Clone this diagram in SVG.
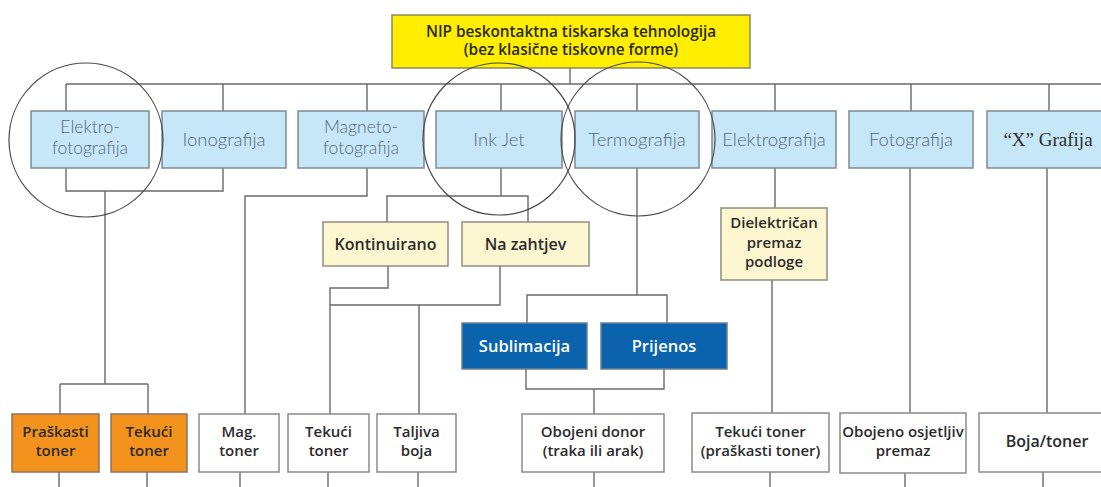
<svg xmlns="http://www.w3.org/2000/svg" width="1101" height="487" viewBox="0 0 1101 487">
<style>
.ln{fill:none;stroke:#6a6a6a;stroke-width:1.4}
.circ{fill:none;stroke:#4a4a4a;stroke-width:1.2}
.blue rect{fill:#c6e7f7;stroke:#7d8a92;stroke-width:1.5}
.blue text{font-family:Lato,"Noto Sans",sans-serif;font-weight:300;font-size:18.5px;fill:#56687a;text-anchor:middle}
.blue text.two{font-size:17.5px}
.top rect{fill:#ffee00;stroke:#8a8a5a;stroke-width:1.5}
.top text{font-family:"Open Sans","Liberation Sans",sans-serif;font-weight:600;font-size:15.3px;fill:#2a2a1a;text-anchor:middle}
.pale rect{fill:#fcf7d0;stroke:#8f8f80;stroke-width:1.5}
.dark rect{fill:#0b63ad;stroke:#6d7f90;stroke-width:1.5}
.orange rect{fill:#f4921e;stroke:#8a7460;stroke-width:1.5}
.white rect{fill:#ffffff;stroke:#8a8a8a;stroke-width:1.5}
.lbl{font-family:"Open Sans","Liberation Sans",sans-serif;font-weight:600;font-size:15px;fill:#2b2b2b;text-anchor:middle}
.big{font-size:16px}
.dark .lbl{fill:#ffffff;font-size:16.5px}
.blue text.serif{font-family:"Liberation Serif",serif;font-weight:400;fill:#2e2e2e;font-size:19px}
</style>

<g id="connectors">
<path class="ln" d="M570,68V84M66,84H1101"/>
<path class="ln" d="M66,84V111M223,84V111M367,84V111M501,84V111M637,84V111M775,84V111M911,84V111M1049,84V111"/>
<path class="ln" d="M66,168V191H223V168M105,191V384M60,384H148M60,384V414M148,384V414"/>
<path class="ln" d="M367,168V196H245V414"/>
<path class="ln" d="M501,168V196M387,222V196H528V222"/>
<path class="ln" d="M388,266V288H330V414M500,266V305H330M419,305V414"/>
<path class="ln" d="M637,168V295M527,323V295H667V323M526,369V389H664V369M594,389V414"/>
<path class="ln" d="M775,168V208M772,280V413"/>
<path class="ln" d="M910,168V413M1047,168V413"/>
<path class="ln" d="M59,472V487M147,472V487M240,472V487M328,472V487M418,472V487M594,472V487M770,472V487M905,472V487M1043,472V487"/>
</g>

<g id="nip" class="top"><rect x="392" y="15" width="358" height="53"/>
<text x="571" y="36.5">NIP beskontaktna tiskarska tehnologija</text>
<text x="571" y="55">(bez klasične tiskovne forme)</text></g>

<g id="elektrofotografija" class="blue"><rect x="31" y="111" width="118" height="57"/>
<text class="two" x="90" y="132.5">Elektro-</text><text class="two" x="90" y="153.5">fotografija</text></g>
<g id="ionografija" class="blue"><rect x="162" y="111" width="124" height="57"/>
<text x="224" y="146">Ionografija</text></g>
<g id="magnetofotografija" class="blue"><rect x="298" y="111" width="126" height="57"/>
<text class="two" x="361" y="132.5">Magneto-</text><text class="two" x="361" y="153.5">fotografija</text></g>
<g id="inkjet" class="blue"><rect x="436" y="111" width="126" height="57"/>
<text x="499" y="146">Ink Jet</text></g>
<g id="termografija" class="blue"><rect x="575" y="111" width="124" height="57"/>
<text x="637" y="146">Termografija</text></g>
<g id="elektrografija" class="blue"><rect x="712" y="111" width="124" height="57"/>
<text x="774" y="146">Elektrografija</text></g>
<g id="fotografija" class="blue"><rect x="849" y="111" width="124" height="57"/>
<text x="911" y="146">Fotografija</text></g>
<g id="xgrafija" class="blue"><rect x="987" y="111" width="124" height="57"/>
<text class="serif" x="1048" y="146">“X” Grafija</text></g>

<g id="kontinuirano" class="pale"><rect x="323" y="222" width="125" height="44"/>
<text class="lbl big" x="385.5" y="250">Kontinuirano</text></g>
<g id="nazahtjev" class="pale"><rect x="462" y="222" width="127" height="44"/>
<text class="lbl big" x="525.5" y="250">Na zahtjev</text></g>
<g id="dielektrican" class="pale"><rect x="721" y="208" width="106" height="72"/>
<text class="lbl" x="774" y="228">Dielektričan</text><text class="lbl" x="774" y="247.5">premaz</text><text class="lbl" x="774" y="267">podloge</text></g>

<g id="sublimacija" class="dark"><rect x="462" y="323" width="125" height="46"/>
<text class="lbl" x="524.5" y="352">Sublimacija</text></g>
<g id="prijenos" class="dark"><rect x="601" y="323" width="126" height="46"/>
<text class="lbl" x="664" y="352">Prijenos</text></g>

<g id="praskasti" class="orange"><rect x="12" y="414" width="87" height="58"/>
<text class="lbl" x="55.5" y="436.5">Praškasti</text><text class="lbl" x="55.5" y="456">toner</text></g>
<g id="tekuci1" class="orange"><rect x="111" y="414" width="76" height="58"/>
<text class="lbl" x="149" y="436.5">Tekući</text><text class="lbl" x="149" y="456">toner</text></g>
<g id="magtoner" class="white"><rect x="199" y="414" width="80" height="58"/>
<text class="lbl" x="239" y="436.5">Mag.</text><text class="lbl" x="239" y="456">toner</text></g>
<g id="tekuci2" class="white"><rect x="288" y="414" width="81" height="58"/>
<text class="lbl" x="328.5" y="436.5">Tekući</text><text class="lbl" x="328.5" y="456">toner</text></g>
<g id="taljiva" class="white"><rect x="377" y="414" width="79" height="58"/>
<text class="lbl" x="416.5" y="436.5">Taljiva</text><text class="lbl" x="416.5" y="456">boja</text></g>
<g id="obojenidonor" class="white"><rect x="522" y="414" width="142" height="58"/>
<text class="lbl" x="593" y="436.5">Obojeni donor</text><text class="lbl" x="593" y="456">(traka ili arak)</text></g>
<g id="tekucitoner" class="white"><rect x="692" y="413" width="137" height="59"/>
<text class="lbl" x="760.5" y="436.5">Tekući toner</text><text class="lbl" x="760.5" y="456">(praškasti toner)</text></g>
<g id="obojeno" class="white"><rect x="840" y="413" width="126" height="60"/>
<text class="lbl" x="903" y="436.5" font-size="14.5">Obojeno osjetljiv</text><text class="lbl" x="903" y="456" font-size="14.5">premaz</text></g>
<g id="bojatoner" class="white"><rect x="979" y="413" width="136" height="59"/>
<text class="lbl big" x="1047" y="447">Boja/toner</text></g>

<g id="circles">
<circle class="circ" cx="86" cy="140" r="77"/>
<circle class="circ" cx="499" cy="139" r="76"/>
<circle class="circ" cx="638" cy="139" r="77"/>
</g>
</svg>
